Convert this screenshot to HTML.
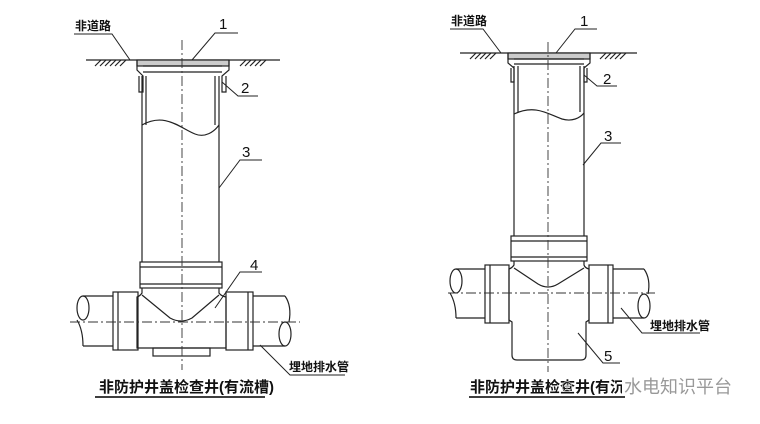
<!DOCTYPE html>
<html><head><meta charset="utf-8"><style>
body{margin:0;background:#fff}
svg{display:block}
text{font-family:"Liberation Sans","Noto Sans CJK SC",sans-serif;fill:#111}
</style></head><body>
<svg width="760" height="424" viewBox="0 0 760 424" xmlns="http://www.w3.org/2000/svg">
<g stroke="#222" stroke-width="1.2" fill="none">
<!-- LEFT -->
<line x1="86" y1="60" x2="280" y2="60"/>
<path d="M95 66 l6 -6 M100 66 l6 -6 M105 66 l6 -6 M110 66 l6 -6 M115 66 l6 -6 M120 66 l6 -6 M240 66 l6 -6 M245 66 l6 -6 M250 66 l6 -6 M255 66 l6 -6 M260 66 l6 -6"/>
<rect x="137" y="60" width="92" height="6" fill="#ccc"/>
<path d="M137 60 L137 70 L143 76 L143 92 L139 92 L139 76 M229 60 L229 70 L222 76 L222 92 L226 92 L226 76"/>
<line x1="143" y1="66" x2="222" y2="66"/>
<line x1="143" y1="72" x2="222" y2="72"/>
<line x1="142" y1="76" x2="142" y2="262"/><line x1="146" y1="76" x2="146" y2="125"/>
<line x1="219" y1="76" x2="219" y2="262"/><line x1="215" y1="76" x2="215" y2="125"/>
<path d="M142 125 C165 112 180 128 195 134 C205 138 214 132 219 125"/>
<rect x="140" y="262" width="82" height="26"/><line x1="140" y1="267" x2="222" y2="267"/><line x1="140" y1="284" x2="222" y2="284"/>
<path d="M142 288 L142 293 Q140 296 137 297 L137 348 L226 348 L226 297 Q221 296 219 293 L219 288"/>
<path d="M142 295 L170 318 Q181 324 192 318 L219 295"/>
<rect x="113" y="292" width="25" height="58"/><line x1="118" y1="292" x2="118" y2="350"/>
<rect x="226" y="292" width="27" height="58"/><line x1="248" y1="292" x2="248" y2="350"/>
<path d="M113 296 L83 296 M113 346 L83 346"/><ellipse cx="83" cy="308" rx="6" ry="12"/><path d="M77 320 Q83 330 83 346"/>
<path d="M253 296 L285 296 M253 346 L285 346"/><ellipse cx="285" cy="334" rx="6" ry="12"/><path d="M285 296 Q292 306 289 322"/>
<rect x="153" y="348" width="57" height="8"/>
<!-- RIGHT -->
<line x1="460" y1="53" x2="637" y2="53"/>
<path d="M470 59 l6 -6 M475 59 l6 -6 M480 59 l6 -6 M485 59 l6 -6 M490 59 l6 -6 M600 59 l6 -6 M605 59 l6 -6 M610 59 l6 -6 M615 59 l6 -6 M620 59 l6 -6"/>
<rect x="508" y="53" width="82" height="6" fill="#ccc"/>
<path d="M508 53 L508 63 L514 68 L514 82 L511 82 L511 68 M590 53 L590 63 L584 68 L584 82 L587 82 L587 68"/>
<line x1="514" y1="59" x2="584" y2="59"/><line x1="514" y1="64" x2="584" y2="64"/>
<line x1="514" y1="66" x2="514" y2="236"/><line x1="518" y1="66" x2="518" y2="112"/>
<line x1="584" y1="66" x2="584" y2="236"/><line x1="580" y1="66" x2="580" y2="112"/>
<path d="M514 114 C535 104 548 114 562 119 C572 122 580 118 584 113"/>
<rect x="511" y="236" width="76" height="25"/><line x1="511" y1="241" x2="587" y2="241"/><line x1="511" y1="257" x2="587" y2="257"/>
<path d="M514 261 L514 265 Q512 268 509 269 L509 320 L512 322 L512 355 Q512 360 517 360 L581 360 Q586 360 586 355 L586 322 L589 320 L589 269 Q585 268 584 265 L584 261"/>
<path d="M514 268 L538 284 Q548 290 558 284 L584 268"/>
<rect x="485" y="265" width="24" height="58"/><line x1="490" y1="265" x2="490" y2="323"/>
<rect x="589" y="265" width="24" height="58"/><line x1="608" y1="265" x2="608" y2="323"/>
<path d="M485 269 L456 269 M485 318 L456 318"/><ellipse cx="456" cy="281" rx="6" ry="12"/><path d="M450 293 Q456 303 456 318"/>
<path d="M613 269 L644 269 M613 318 L644 318"/><ellipse cx="644" cy="306" rx="6" ry="12"/><path d="M644 269 Q651 279 648 294"/>
</g>
<g stroke="#333" stroke-width="0.9" stroke-dasharray="10,3,2,3" fill="none">
<line x1="182" y1="40" x2="182" y2="370"/>
<line x1="70" y1="322" x2="300" y2="322"/>
<line x1="548" y1="42" x2="548" y2="372"/>
<line x1="448" y1="293" x2="655" y2="293"/>
</g>
<g stroke="#222" stroke-width="1" fill="none">
<path d="M74 34 L112 34 L130 60"/>
<path d="M192 60 L215 33 L238 33"/>
<path d="M222 82 L238 96 L258 96"/>
<path d="M219 188 L240 160 L262 160"/>
<path d="M215 308 L240 272 L262 272"/>
<path d="M260 345 L290 375 L345 375"/>
<path d="M95 397 L265 397" stroke-width="1.8"/>
<path d="M450 29 L483 29 L501 53"/>
<path d="M556 53 L575 29 L597 29"/>
<path d="M584 75 L597 86 L617 86"/>
<path d="M583 165 L601 143 L621 143"/>
<path d="M621 308 L642 333 L700 333"/>
<path d="M578 333 L603 363 L620 363"/>
<path d="M469 397 L625 397" stroke-width="1.8"/>
</g>
<g font-size="12" font-weight="bold">
<text x="75" y="30">非道路</text>
<text x="451" y="25">非道路</text>
<text x="289" y="371">埋地排水管</text>
<text x="650" y="330">埋地排水管</text>
</g>
<g font-size="15">
<text x="219" y="29">1</text><text x="241" y="93">2</text><text x="242" y="157">3</text><text x="250" y="270">4</text>
<text x="580" y="26">1</text><text x="603" y="84">2</text><text x="604" y="141">3</text><text x="604" y="361">5</text>
</g>
<g font-size="15" font-weight="bold">
<text x="99" y="392">非防护井盖检查井(有流槽)</text>
<text x="470" y="392">非防护井盖检查井(有沉泥室)</text>
</g>
<rect x="622" y="376" width="116" height="20" fill="#fff"/>
<text x="624" y="393" font-size="18" style="fill:#999">水电知识平台</text>
<text x="560" y="392" font-size="14" style="fill:#aaa">⊕</text>
</svg>
</body></html>
